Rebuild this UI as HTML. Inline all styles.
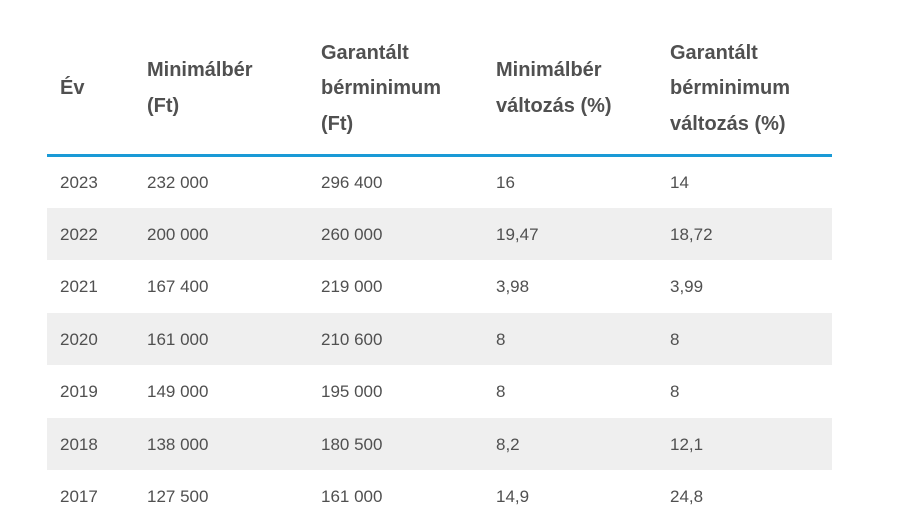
<!DOCTYPE html>
<html><head><meta charset="utf-8"><style>
body{margin:0;width:900px;height:505px;overflow:hidden;background:#fff;font-family:"Liberation Sans",sans-serif;color:#505050}
table{position:absolute;left:47px;top:0;width:785px;border-collapse:collapse}
th{font-weight:bold;font-size:20px;line-height:35.5px;text-align:left;vertical-align:middle;padding:0 0 0 13px;height:155px;box-sizing:border-box;border-bottom:3px solid #1a9ad6;padding-top:24px}
td{font-size:17px;height:52.5px;padding:2px 0 0 13px;box-sizing:border-box}
tr.g td{background:#efefef}
.c1{width:87px}.c2{width:174px}.c3{width:175px}.c4{width:174px}
</style></head><body>
<table>
<thead><tr>
<th class="c1">Év</th>
<th class="c2">Minimálbér<br>(Ft)</th>
<th class="c3">Garantált<br>bérminimum<br>(Ft)</th>
<th class="c4">Minimálbér<br>változás (%)</th>
<th>Garantált<br>bérminimum<br>változás (%)</th>
</tr></thead>
<tbody>
<tr><td>2023</td><td>232 000</td><td>296 400</td><td>16</td><td>14</td></tr>
<tr class="g"><td>2022</td><td>200 000</td><td>260 000</td><td>19,47</td><td>18,72</td></tr>
<tr><td>2021</td><td>167 400</td><td>219 000</td><td>3,98</td><td>3,99</td></tr>
<tr class="g"><td>2020</td><td>161 000</td><td>210 600</td><td>8</td><td>8</td></tr>
<tr><td>2019</td><td>149 000</td><td>195 000</td><td>8</td><td>8</td></tr>
<tr class="g"><td>2018</td><td>138 000</td><td>180 500</td><td>8,2</td><td>12,1</td></tr>
<tr><td>2017</td><td>127 500</td><td>161 000</td><td>14,9</td><td>24,8</td></tr>
</tbody></table>
</body></html>
